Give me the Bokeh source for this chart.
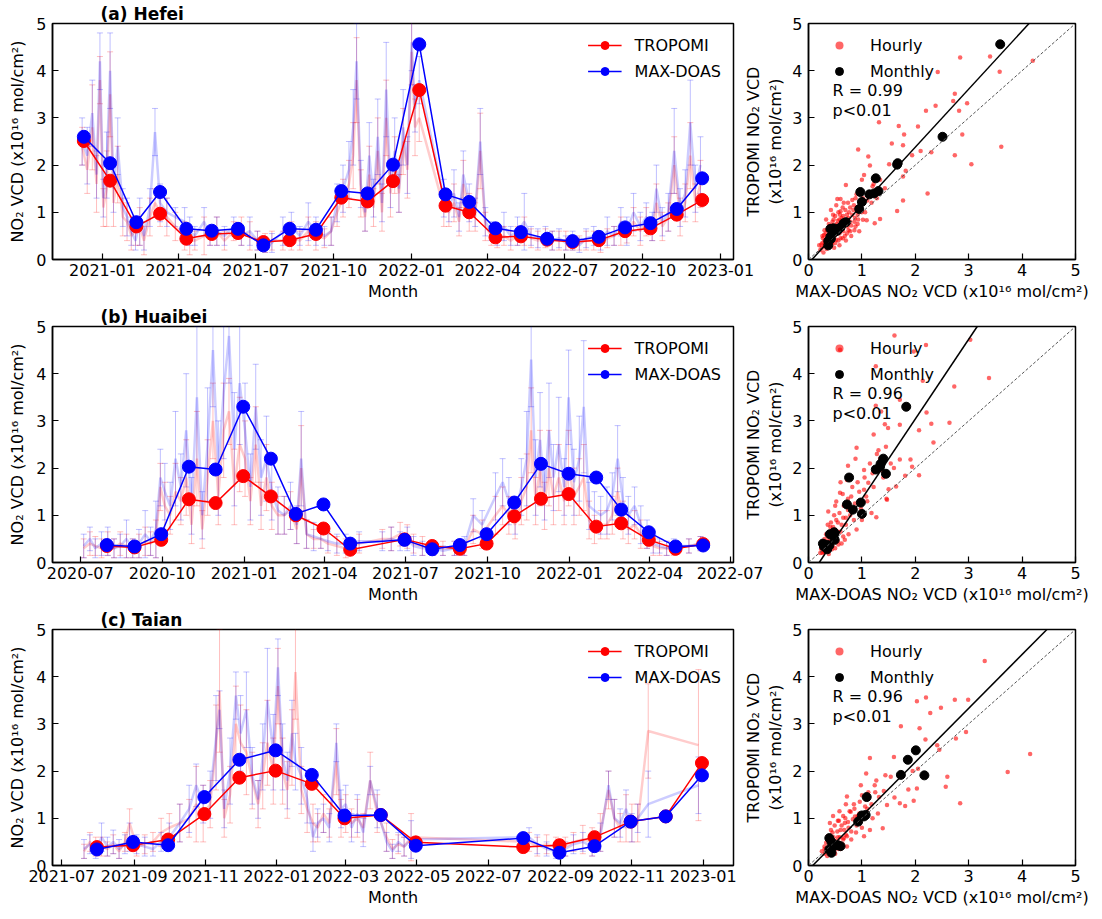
import pandas as pd
from bokeh.plotting import figure
from bokeh.models import (Range1d, FixedTicker, DatetimeTickFormatter, Whisker, TeeHead,
                          ColumnDataSource, Legend, LegendItem, Slope, Label)
from bokeh.layouts import column, row
from bokeh.embed import file_html
from bokeh.resources import INLINE

FONT = "DejaVu Sans"
RED = "#ff0000"
BLUE = "#0000ff"

# ---------------- Monthly means ----------------
hf_month_dates = ["2020-12-10", "2021-01-10", "2021-02-10", "2021-03-10", "2021-04-10", "2021-05-10",
                  "2021-06-10", "2021-07-10", "2021-08-10", "2021-09-10", "2021-10-10", "2021-11-10",
                  "2021-12-10", "2022-01-10", "2022-02-10", "2022-03-10", "2022-04-10", "2022-05-10",
                  "2022-06-10", "2022-07-10", "2022-08-10", "2022-09-10", "2022-10-10", "2022-11-10",
                  "2022-12-10"]
hf_month_trop = [2.51, 1.67, 0.70, 0.97, 0.44, 0.54, 0.56, 0.37, 0.41, 0.54, 1.31, 1.23, 1.66, 3.59,
                 1.14, 1.00, 0.47, 0.49, 0.42, 0.37, 0.41, 0.60, 0.66, 0.95, 1.26]
hf_month_doas = [2.60, 2.04, 0.79, 1.43, 0.65, 0.61, 0.65, 0.30, 0.65, 0.63, 1.45, 1.40, 2.01, 4.56,
                 1.38, 1.22, 0.66, 0.58, 0.44, 0.39, 0.48, 0.68, 0.77, 1.07, 1.72]

hb_month_dates = ["2020-07-31", "2020-08-31", "2020-09-30", "2020-10-31", "2020-11-30", "2020-12-31",
                  "2021-01-31", "2021-02-28", "2021-03-31", "2021-04-30", "2021-06-30", "2021-07-31",
                  "2021-08-31", "2021-09-30", "2021-10-31", "2021-11-30", "2021-12-31", "2022-01-31",
                  "2022-02-28", "2022-03-31", "2022-04-30", "2022-05-31"]
hb_month_trop = [0.35, 0.32, 0.48, 1.34, 1.26, 1.83, 1.40, 1.00, 0.72, 0.27, 0.49, 0.35, 0.29, 0.40,
                 0.98, 1.35, 1.45, 0.76, 0.83, 0.48, 0.29, 0.39]
hb_month_doas = [0.37, 0.34, 0.60, 2.03, 1.97, 3.30, 2.20, 1.03, 1.23, 0.40, 0.48, 0.28, 0.37, 0.60,
                 1.27, 2.09, 1.88, 1.80, 1.12, 0.64, 0.34, 0.36]

ta_month_dates = ["2021-07-31", "2021-08-31", "2021-09-30", "2021-10-31", "2021-11-30", "2021-12-31",
                  "2022-01-31", "2022-02-28", "2022-03-31", "2022-04-30", "2022-07-31", "2022-08-31",
                  "2022-09-30", "2022-10-31", "2022-11-30", "2022-12-31"]
ta_month_trop = [0.39, 0.43, 0.55, 1.09, 1.86, 2.01, 1.73, 1.00, 1.07, 0.49, 0.39, 0.43, 0.60, 0.93,
                 1.04, 2.17]
ta_month_doas = [0.34, 0.50, 0.43, 1.45, 2.24, 2.44, 1.92, 1.06, 1.07, 0.42, 0.58, 0.27, 0.41, 0.93,
                 1.04, 1.91]

# ---------------- Daily values with standard deviations ----------------
hf_days = ["2020-12-08", "2020-12-14", "2020-12-20", "2020-12-25", "2020-12-29", "2021-01-02", "2021-01-06",
           "2021-01-10", "2021-01-14", "2021-01-19", "2021-01-25", "2021-01-30", "2021-02-04", "2021-02-09",
           "2021-02-14", "2021-02-19", "2021-02-26", "2021-03-04", "2021-03-10", "2021-03-18", "2021-03-28",
           "2021-04-08", "2021-04-14", "2021-04-20", "2021-05-01", "2021-05-08", "2021-05-16", "2021-05-25",
           "2021-06-05", "2021-06-14", "2021-06-24", "2021-07-03", "2021-07-12", "2021-07-20", "2021-08-02",
           "2021-08-12", "2021-08-22", "2021-09-01", "2021-09-10", "2021-09-20", "2021-09-28", "2021-10-05",
           "2021-10-12", "2021-10-19", "2021-10-24", "2021-10-28", "2021-11-02", "2021-11-07", "2021-11-12",
           "2021-11-17", "2021-11-22", "2021-11-27", "2021-12-02", "2021-12-07", "2021-12-12", "2021-12-17",
           "2021-12-22", "2021-12-27", "2022-01-01", "2022-01-05", "2022-01-10", "2022-02-08", "2022-02-14",
           "2022-02-20", "2022-02-26", "2022-03-03", "2022-03-10", "2022-03-17", "2022-03-23", "2022-03-29",
           "2022-04-05", "2022-04-12", "2022-04-20", "2022-04-28", "2022-05-06", "2022-05-14", "2022-05-22",
           "2022-05-30", "2022-06-08", "2022-06-16", "2022-06-24", "2022-07-02", "2022-07-10", "2022-07-18",
           "2022-07-26", "2022-08-04", "2022-08-12", "2022-08-20", "2022-08-28", "2022-09-05", "2022-09-12",
           "2022-09-20", "2022-09-28", "2022-10-05", "2022-10-12", "2022-10-17", "2022-10-24", "2022-10-31",
           "2022-11-07", "2022-11-14", "2022-11-20", "2022-11-26", "2022-12-02", "2022-12-08"]
hf_day_doas = [2.5, 2.2, 3.1, 1.8, 4.2, 1.3, 2.0, 4.0, 1.5, 2.4, 1.1, 0.9, 0.6, 0.4, 0.8, 0.5, 1.1, 2.7,
               1.2, 1.0, 0.9, 0.8, 0.6, 0.5, 0.8, 0.5, 0.6, 0.5, 0.7, 0.5, 0.6, 0.4, 0.3, 0.35, 0.6, 0.7,
               0.5, 0.8, 0.6, 0.5, 0.6, 1.2, 1.5, 1.9, 2.8, 4.2, 1.6, 1.0, 2.2, 1.3, 2.6, 1.2, 3.6, 1.6,
               2.3, 1.5, 2.8, 2.0, 4.6, 3.2, 3.8, 1.3, 1.1, 1.4, 0.9, 1.8, 1.2, 1.0, 2.5, 0.8, 0.6, 0.5,
               0.7, 0.5, 0.6, 0.8, 0.5, 0.45, 0.5, 0.4, 0.45, 0.35, 0.4, 0.3, 0.45, 0.5, 0.4, 0.6, 0.5,
               0.8, 0.6, 1.0, 0.7, 0.9, 0.7, 1.5, 0.8, 1.0, 2.3, 1.1, 1.4, 2.9, 1.5, 2.0]
hf_day_trop = [2.4, 1.9, 2.8, 1.6, 3.8, 1.1, 1.5, 3.5, 1.2, 1.8, 0.9, 0.8, 0.5, 0.6, 0.7, 0.4, 0.9, 1.2,
               1.0, 0.9, 0.7, 0.5, 0.4, 0.4, 0.5, 0.5, 0.6, 0.4, 0.6, 0.6, 0.5, 0.4, 0.35, 0.4, 0.4, 0.5,
               0.4, 0.6, 0.5, 0.45, 0.6, 1.0, 1.3, 1.6, 2.2, 3.8, 1.4, 0.9, 1.8, 1.1, 2.3, 1.0, 3.0, 1.4,
               2.0, 1.4, 2.5, 1.9, 4.4, 2.8, 3.0, 1.1, 1.0, 1.2, 0.8, 1.6, 1.0, 0.9, 2.3, 0.7, 0.5, 0.45,
               0.5, 0.4, 0.5, 0.6, 0.45, 0.4, 0.45, 0.4, 0.4, 0.4, 0.35, 0.35, 0.4, 0.4, 0.35, 0.45, 0.5,
               0.6, 0.55, 0.8, 0.6, 0.8, 0.6, 1.2, 0.7, 0.9, 2.0, 0.9, 1.2, 2.2, 1.2, 1.6]
hf_err_doas = [0.5, 0.6, 0.7, 0.5, 0.6, 0.4, 0.7, 0.8, 0.5, 0.6, 0.4, 0.4, 0.3, 0.2, 0.5, 0.3, 0.4, 0.5,
               0.4, 0.3, 0.2, 0.3, 0.3, 0.2, 0.3, 0.2, 0.3, 0.2, 0.2, 0.2, 0.3, 0.2, 0.15, 0.2, 0.3, 0.3,
               0.2, 0.4, 0.3, 0.2, 0.3, 0.4, 0.5, 0.6, 0.8, 0.8, 0.5, 0.4, 0.7, 0.4, 0.8, 0.4, 1.0, 0.5,
               0.7, 0.5, 0.8, 0.6, 0.6, 0.5, 0.5, 0.4, 0.3, 0.5, 0.3, 0.5, 0.4, 0.3, 0.7, 0.3, 0.2, 0.2,
               0.3, 0.2, 0.3, 0.6, 0.2, 0.2, 0.2, 0.2, 0.2, 0.15, 0.2, 0.15, 0.2, 0.2, 0.2, 0.3, 0.2,
               0.3, 0.3, 0.4, 0.3, 0.3, 0.3, 0.5, 0.3, 0.4, 0.9, 0.4, 0.5, 0.9, 0.5, 0.6]
hf_err_trop = [0.4, 0.5, 0.9, 0.6, 0.5, 0.4, 0.8, 0.9, 0.5, 0.6, 0.4, 0.4, 0.3, 0.3, 0.4, 0.3, 0.4, 0.3,
               0.3, 0.4, 0.3, 0.3, 0.3, 0.2, 0.4, 0.2, 0.3, 0.2, 0.2, 0.3, 0.3, 0.2, 0.2, 0.2, 0.2, 0.3,
               0.2, 0.3, 0.3, 0.2, 0.3, 0.3, 0.4, 0.5, 0.7, 0.9, 0.5, 0.3, 0.6, 0.4, 0.7, 0.4, 0.8, 0.5,
               0.6, 0.4, 0.7, 0.6, 0.7, 0.6, 0.5, 0.4, 0.3, 0.4, 0.3, 0.5, 0.4, 0.3, 0.8, 0.3, 0.2, 0.2,
               0.2, 0.2, 0.2, 0.3, 0.2, 0.2, 0.2, 0.2, 0.2, 0.2, 0.15, 0.15, 0.2, 0.2, 0.2, 0.2, 0.2,
               0.3, 0.2, 0.3, 0.3, 0.3, 0.2, 0.4, 0.3, 0.3, 0.6, 0.4, 0.4, 0.7, 0.4, 0.5]

hb_days = ["2020-07-05", "2020-07-12", "2020-07-18", "2020-07-25", "2020-08-01", "2020-08-08", "2020-08-15",
           "2020-08-22", "2020-08-29", "2020-09-05", "2020-09-12", "2020-09-18", "2020-09-24", "2020-09-29",
           "2020-10-04", "2020-10-10", "2020-10-16", "2020-10-22", "2020-10-28", "2020-11-03", "2020-11-09",
           "2020-11-15", "2020-11-21", "2020-11-27", "2020-12-03", "2020-12-09", "2020-12-15", "2020-12-21",
           "2020-12-27", "2021-01-02", "2021-01-08", "2021-01-14", "2021-01-20", "2021-01-26", "2021-02-01",
           "2021-02-08", "2021-02-15", "2021-02-22", "2021-03-01", "2021-03-06", "2021-03-12", "2021-03-20",
           "2021-03-28", "2021-04-05", "2021-04-15", "2021-04-25", "2021-05-10", "2021-06-05", "2021-06-15",
           "2021-06-25", "2021-07-03", "2021-07-10", "2021-07-20", "2021-08-01", "2021-08-12", "2021-08-25",
           "2021-09-05", "2021-09-15", "2021-09-25", "2021-10-10", "2021-10-18", "2021-10-25", "2021-11-01",
           "2021-11-08", "2021-11-14", "2021-11-19", "2021-11-24", "2021-11-29", "2021-12-04", "2021-12-09",
           "2021-12-14", "2021-12-20", "2021-12-26", "2021-12-31", "2022-01-06", "2022-01-12", "2022-01-17",
           "2022-01-23", "2022-01-29", "2022-02-05", "2022-02-12", "2022-02-18", "2022-02-24", "2022-03-02",
           "2022-03-08", "2022-03-15", "2022-03-22", "2022-03-29", "2022-04-05", "2022-04-12", "2022-04-20",
           "2022-04-28", "2022-05-15", "2022-05-28"]
hb_day_doas = [0.35, 0.50, 0.30, 0.40, 0.45, 0.30, 0.35, 0.50, 0.30, 0.40, 0.60, 0.45, 0.70, 1.80, 1.50,
               1.20, 2.20, 1.60, 2.80, 1.20, 3.50, 1.00, 2.50, 4.50, 2.00, 3.60, 4.80, 2.40, 3.80, 2.80,
               1.60, 3.30, 1.80, 2.20, 1.50, 1.10, 1.00, 1.20, 0.80, 2.20, 0.60, 0.55, 0.50, 0.45, 0.40,
               0.40, 0.45, 0.45, 0.50, 0.45, 0.50, 0.35, 0.30, 0.30, 0.25, 0.30, 0.35, 1.00, 0.80, 1.40,
               1.70, 1.30, 1.00, 1.60, 2.20, 4.30, 1.80, 2.60, 1.50, 2.80, 1.80, 2.50, 1.60, 3.50, 1.70,
               2.20, 3.30, 1.20, 1.10, 1.00, 1.10, 1.40, 2.20, 1.30, 1.00, 1.20, 0.80, 0.60, 0.40, 0.35,
               0.30, 0.35, 0.35, 0.40]
hb_day_trop = [0.30, 0.40, 0.35, 0.30, 0.40, 0.30, 0.40, 0.35, 0.30, 0.35, 0.45, 0.40, 0.50, 1.60, 1.20,
               1.00, 1.50, 1.30, 1.80, 0.80, 2.20, 0.70, 1.80, 3.00, 1.40, 2.80, 3.20, 1.60, 2.50, 2.20,
               1.30, 2.50, 1.20, 1.80, 1.20, 1.00, 1.00, 1.10, 0.70, 2.00, 0.60, 0.50, 0.50, 0.40, 0.35,
               0.30, 0.40, 0.50, 0.50, 0.60, 0.55, 0.40, 0.35, 0.30, 0.30, 0.30, 0.30, 0.70, 0.60, 1.00,
               1.20, 1.00, 0.80, 1.30, 1.60, 2.80, 1.30, 2.00, 1.20, 2.00, 1.40, 1.80, 1.30, 2.00, 1.40,
               1.60, 1.80, 0.90, 0.70, 0.80, 0.80, 1.00, 1.50, 0.90, 0.70, 0.80, 0.60, 0.50, 0.35, 0.30,
               0.30, 0.30, 0.35, 0.40]
hb_err_doas = [0.25, 0.25, 0.20, 0.25, 0.30, 0.20, 0.25, 0.40, 0.20, 0.30, 0.50, 0.30, 0.60, 0.60, 0.60,
               0.50, 1.00, 0.70, 1.20, 0.60, 1.50, 0.50, 1.20, 1.20, 1.00, 1.40, 1.00, 1.20, 1.30, 1.00,
               0.70, 0.90, 0.80, 0.90, 0.60, 0.50, 0.40, 0.50, 0.40, 1.00, 0.30, 0.30, 0.20, 0.20, 0.20,
               0.20, 0.20, 0.20, 0.25, 0.20, 0.25, 0.20, 0.15, 0.15, 0.10, 0.15, 0.20, 0.35, 0.30, 0.50,
               0.50, 0.50, 0.40, 0.60, 1.00, 1.00, 0.80, 1.00, 0.60, 1.00, 0.70, 1.00, 0.60, 1.00, 0.70,
               0.90, 1.40, 0.50, 0.40, 0.40, 0.50, 0.50, 0.70, 0.50, 0.40, 0.40, 0.40, 0.30, 0.20, 0.15,
               0.15, 0.15, 0.15, 0.15]
hb_err_trop = [0.20, 0.25, 0.20, 0.20, 0.25, 0.20, 0.25, 0.25, 0.20, 0.25, 0.30, 0.25, 0.40, 0.50, 0.50,
               0.40, 0.60, 0.50, 0.80, 0.40, 1.00, 0.40, 0.80, 0.80, 0.60, 1.00, 0.70, 0.80, 1.00, 0.80,
               0.50, 0.80, 0.50, 0.70, 0.50, 0.40, 0.40, 0.40, 0.30, 0.90, 0.30, 0.20, 0.20, 0.20, 0.20,
               0.20, 0.20, 0.20, 0.25, 0.25, 0.25, 0.20, 0.20, 0.15, 0.15, 0.15, 0.15, 0.30, 0.30, 0.40,
               0.40, 0.40, 0.30, 0.50, 0.70, 0.90, 0.50, 0.80, 0.50, 0.80, 0.60, 0.70, 0.50, 0.80, 0.60,
               0.60, 0.70, 0.40, 0.30, 0.30, 0.30, 0.40, 0.50, 0.40, 0.30, 0.30, 0.30, 0.20, 0.20, 0.15,
               0.15, 0.15, 0.15, 0.15]

ta_days = ["2021-07-20", "2021-07-25", "2021-07-30", "2021-08-04", "2021-08-09", "2021-08-14", "2021-08-19",
           "2021-08-24", "2021-08-28", "2021-09-03", "2021-09-10", "2021-09-17", "2021-09-24", "2021-10-01",
           "2021-10-10", "2021-10-18", "2021-10-24", "2021-10-30", "2021-11-05", "2021-11-10", "2021-11-13",
           "2021-11-17", "2021-11-22", "2021-11-27", "2021-12-01", "2021-12-06", "2021-12-11", "2021-12-16",
           "2021-12-20", "2021-12-24", "2021-12-29", "2022-01-02", "2022-01-06", "2022-01-10", "2022-01-14",
           "2022-01-17", "2022-01-22", "2022-01-27", "2022-02-01", "2022-02-05", "2022-02-10", "2022-02-15",
           "2022-02-21", "2022-02-25", "2022-03-01", "2022-03-06", "2022-03-11", "2022-03-16", "2022-03-22",
           "2022-03-28", "2022-04-05", "2022-04-10", "2022-04-15", "2022-04-20", "2022-04-26", "2022-08-05",
           "2022-08-12", "2022-08-20", "2022-08-28", "2022-09-05", "2022-09-12", "2022-09-20", "2022-09-28",
           "2022-10-05", "2022-10-12", "2022-10-17", "2022-10-22", "2022-10-27", "2022-11-01", "2022-11-06",
           "2022-11-15", "2022-12-28"]
ta_day_doas = [0.35, 0.45, 0.30, 0.60, 0.40, 0.50, 0.35, 0.45, 0.60, 0.45, 0.40, 0.35, 0.50, 0.60, 0.90,
               1.20, 1.70, 1.30, 1.50, 2.70, 3.30, 1.20, 2.00, 3.60, 2.80, 3.30, 1.90, 1.40, 2.30, 3.50,
               2.40, 4.20, 2.30, 1.80, 2.80, 2.20, 1.90, 1.40, 0.60, 0.90, 1.00, 0.80, 2.60, 1.20, 1.30,
               0.80, 1.10, 0.70, 1.80, 1.20, 0.50, 0.30, 0.50, 0.40, 0.55, 0.60, 0.45, 0.35, 0.30, 0.35,
               0.45, 0.50, 0.40, 0.60, 1.70, 1.00, 0.90, 1.20, 0.80, 1.00, 1.30, 1.70]
ta_day_trop = [0.30, 0.50, 0.40, 0.40, 0.35, 0.45, 0.30, 0.50, 0.90, 0.40, 0.45, 0.50, 0.70, 0.80, 0.90,
               1.00, 1.30, 1.10, 1.30, 2.50, 3.70, 1.00, 1.50, 3.00, 2.60, 2.40, 1.80, 1.30, 1.90, 2.60,
               2.00, 3.80, 2.00, 1.60, 2.50, 4.10, 1.60, 1.20, 0.90, 0.80, 1.10, 0.90, 2.20, 1.00, 1.10,
               0.90, 1.00, 0.80, 1.80, 1.10, 0.60, 0.35, 0.45, 0.40, 0.60, 0.50, 0.40, 0.45, 0.40, 0.40,
               0.50, 0.55, 0.50, 0.70, 1.60, 1.00, 0.80, 1.00, 0.90, 0.90, 2.85, 2.55]
ta_err_doas = [0.20, 0.20, 0.15, 0.30, 0.20, 0.25, 0.20, 0.20, 0.30, 0.20, 0.20, 0.15, 0.20, 0.30, 0.40,
               0.50, 0.45, 0.40, 0.50, 0.90, 0.40, 0.40, 0.70, 0.50, 0.80, 0.80, 0.60, 0.40, 0.70, 1.10,
               0.80, 0.60, 0.70, 0.60, 0.70, 0.60, 0.60, 0.50, 0.30, 0.30, 0.30, 0.30, 0.40, 0.40, 0.40,
               0.30, 0.40, 0.30, 0.30, 0.40, 0.20, 0.15, 0.20, 0.20, 0.40, 0.20, 0.20, 0.15, 0.15, 0.15,
               0.20, 0.20, 0.20, 0.30, 0.30, 0.40, 0.30, 0.40, 0.30, 0.30, 0.70, 0.60]
ta_err_trop = [0.15, 0.20, 0.20, 0.20, 0.15, 0.20, 0.15, 0.20, 0.30, 0.20, 0.20, 0.20, 0.30, 0.30, 0.40,
               0.40, 0.80, 0.60, 0.50, 0.90, 1.30, 0.40, 0.60, 0.80, 0.80, 0.90, 0.60, 0.50, 0.70, 0.90,
               0.70, 0.80, 0.70, 0.60, 0.80, 1.00, 0.50, 0.50, 0.40, 0.30, 0.40, 0.30, 0.70, 0.40, 0.40,
               0.30, 0.40, 0.30, 0.60, 0.40, 0.30, 0.20, 0.20, 0.20, 0.50, 0.20, 0.20, 0.20, 0.20, 0.20,
               0.20, 0.30, 0.30, 0.40, 0.40, 0.40, 0.30, 0.50, 0.40, 0.40, 1.00, 1.60]

# ---------------- Hourly coincident pairs (as drawn: x, y) ----------------
hf_hourly = [(2.84, 4.28), (3.40, 4.30), (4.20, 4.21), (2.42, 3.97), (3.58, 3.98), (2.74, 3.51), (2.71, 3.36),
             (2.97, 3.31), (2.38, 3.26), (2.20, 3.15), (2.82, 3.15), (1.32, 2.91), (1.69, 2.83), (2.05, 2.82),
             (1.79, 2.65), (2.88, 2.65), (1.56, 2.46), (1.77, 2.42), (3.61, 2.39), (0.93, 2.33), (2.10, 2.30),
             (2.30, 2.27), (1.94, 2.21), (2.74, 2.21), (1.12, 2.18), (3.05, 2.02), (1.51, 2.02), (1.82, 1.88),
             (1.77, 1.76), (2.23, 1.40), (1.77, 1.25), (1.66, 1.03), (1.34, 0.86), (1.24, 0.77), (1.02, 0.84),
             (1.09, 0.83), (0.87, 0.88), (0.70, 1.58), (1.04, 1.79), (1.15, 1.99), (1.34, 1.69), (1.43, 1.51),
             (0.82, 1.26), (0.54, 1.28), (0.90, 1.38), (1.00, 1.69), (1.20, 1.55), (1.28, 1.30), (1.10, 1.25),
             (0.95, 1.05), (0.78, 1.10), (0.66, 1.20), (0.60, 1.02), (0.72, 0.95), (0.85, 1.15), (0.50, 0.92),
             (0.45, 0.80), (0.58, 0.85), (0.62, 0.70), (0.70, 0.78), (0.80, 0.72), (0.55, 0.62), (0.48, 0.68),
             (0.40, 0.60), (0.35, 0.50), (0.42, 0.45), (0.50, 0.52), (0.58, 0.55), (0.65, 0.60), (0.30, 0.40),
             (0.38, 0.35), (0.45, 0.38), (0.25, 0.25), (0.30, 0.28), (0.34, 0.22), (0.40, 0.30), (0.28, 0.15),
             (0.22, 0.20), (0.52, 0.42), (0.60, 0.45), (0.68, 0.50), (0.75, 0.62), (0.88, 0.70), (0.36, 0.65),
             (0.32, 0.55), (0.44, 0.72), (0.53, 0.75), (0.62, 0.88), (0.75, 0.88), (0.92, 0.95), (1.00, 1.00),
             (0.80, 0.50), (0.70, 0.40), (0.95, 0.60), (0.26, 0.35), (0.20, 0.30), (0.58, 0.30), (0.48, 0.25)]
hf_hourly_dense = [(0.24, 0.32), (0.27, 0.45), (0.29, 0.52), (0.31, 0.33), (0.33, 0.42), (0.35, 0.62),
                   (0.37, 0.45), (0.39, 0.52), (0.41, 0.68), (0.43, 0.58), (0.45, 0.48), (0.47, 0.85),
                   (0.49, 0.62), (0.51, 0.72), (0.53, 0.58), (0.55, 0.82), (0.57, 0.68), (0.59, 0.95),
                   (0.61, 0.78), (0.63, 0.65), (0.65, 0.92), (0.67, 0.72), (0.69, 1.05), (0.71, 0.85),
                   (0.73, 0.70), (0.76, 1.00), (0.78, 0.80), (0.82, 0.95), (0.84, 1.05), (0.86, 0.80),
                   (0.90, 1.10), (0.93, 0.85), (0.97, 1.20), (1.02, 1.30), (1.06, 1.00), (1.12, 1.40),
                   (1.18, 1.20), (1.22, 1.60), (0.98, 1.45), (0.88, 1.30), (0.74, 1.20), (0.64, 1.10),
                   (0.56, 1.00), (0.46, 0.95), (0.38, 0.75), (0.30, 0.62), (0.26, 0.50), (0.36, 0.30),
                   (0.44, 0.33), (0.50, 0.35), (0.56, 0.40), (0.64, 0.45), (0.72, 0.55), (0.78, 0.60),
                   (0.86, 0.62), (0.92, 0.75), (0.33, 0.85), (0.42, 1.05), (0.52, 1.15), (0.60, 1.28)]
hb_hourly = [(1.61, 4.81), (2.20, 4.61), (0.59, 4.51), (1.97, 4.47), (3.03, 4.72), (1.26, 4.16), (2.14, 3.85),
             (3.38, 3.91), (1.71, 3.45), (2.73, 3.73), (1.36, 3.20), (1.43, 2.93), (1.49, 2.85), (1.26, 3.32),
             (2.21, 3.18), (2.30, 2.94), (2.64, 2.96), (2.07, 2.80), (1.71, 2.92), (1.22, 2.71), (2.34, 2.54),
             (0.90, 2.43), (1.91, 2.18), (1.94, 2.03), (2.07, 1.85), (1.81, 1.84), (1.64, 1.61), (1.46, 1.35),
             (1.27, 0.96), (1.04, 1.96), (0.74, 2.05), (0.59, 1.48), (0.52, 1.29), (0.37, 1.08), (0.41, 0.75),
             (1.31, 2.38), (1.34, 2.20), (1.12, 1.69), (1.04, 1.54), (1.71, 2.18), (1.54, 2.10), (1.20, 1.89),
             (0.87, 1.25), (0.74, 1.11), (0.97, 1.25), (0.60, 1.70), (0.80, 1.40), (0.95, 1.50), (1.10, 1.30),
             (0.65, 0.95), (0.55, 0.85), (0.70, 0.80), (0.85, 0.90), (1.00, 0.90), (0.45, 0.60), (0.50, 0.70),
             (0.60, 0.65), (0.40, 0.50), (0.35, 0.40), (0.30, 0.35), (0.25, 0.30), (0.22, 0.20), (0.28, 0.22),
             (0.35, 0.25), (0.45, 0.35), (0.55, 0.45), (0.65, 0.55), (0.75, 0.60), (0.42, 0.85), (0.33, 0.60),
             (0.48, 1.00), (1.40, 1.80), (1.50, 1.55), (1.60, 2.00), (1.47, 1.33), (1.18, 1.05), (0.90, 0.70),
             (0.62, 0.40), (0.38, 0.18), (0.50, 0.30)]
hb_hourly_dense = [(0.24, 0.28), (0.27, 0.40), (0.30, 0.50), (0.32, 0.30), (0.34, 0.45), (0.36, 0.55),
                   (0.38, 0.35), (0.40, 0.65), (0.43, 0.45), (0.46, 0.75), (0.48, 0.55), (0.52, 0.90),
                   (0.55, 0.65), (0.58, 1.05), (0.62, 0.80), (0.66, 1.20), (0.70, 0.95), (0.74, 1.35),
                   (0.78, 1.00), (0.82, 1.60), (0.86, 1.10), (0.92, 1.70), (0.98, 1.15), (1.05, 1.80),
                   (1.08, 1.40), (1.15, 2.10), (1.22, 1.60), (1.28, 2.30), (1.38, 1.95), (1.45, 2.45),
                   (0.30, 0.22), (0.26, 0.20), (0.44, 0.28), (0.56, 0.38), (0.68, 0.48), (0.36, 0.80),
                   (0.50, 1.20), (0.64, 1.45), (0.72, 1.75), (0.88, 2.20)]
ta_hourly = [(3.30, 4.33), (2.03, 3.48), (2.20, 3.56), (2.74, 3.51), (2.99, 3.51), (2.48, 3.34), (2.28, 3.23),
             (1.73, 2.95), (2.08, 2.91), (2.95, 2.83), (2.76, 2.69), (2.41, 2.55), (2.19, 2.67), (4.15, 2.36),
             (1.15, 2.28), (2.60, 1.88), (3.73, 1.98), (2.57, 1.67), (2.03, 1.63), (1.87, 1.61), (2.84, 1.32),
             (1.81, 1.26), (1.71, 1.32), (1.61, 1.44), (1.39, 0.79), (1.08, 1.95), (1.44, 1.91), (1.27, 1.80),
             (0.98, 1.70), (1.00, 1.49), (0.72, 1.46), (0.79, 1.14), (0.87, 1.04), (0.68, 0.90), (1.04, 0.62),
             (1.47, 1.28), (1.54, 1.88), (1.41, 1.58), (1.97, 1.37), (2.05, 2.05), (1.95, 2.00), (2.45, 2.45),
             (1.60, 2.30), (1.25, 1.55), (1.10, 1.20), (0.95, 1.10), (0.85, 1.30), (0.75, 0.80), (0.90, 0.85),
             (0.60, 0.75), (0.55, 0.60), (0.65, 0.55), (0.50, 0.45), (0.45, 0.70), (0.40, 0.90), (0.35, 0.55),
             (0.30, 0.40), (0.40, 0.30), (0.50, 0.25), (0.25, 0.30), (0.35, 0.20), (0.60, 0.35), (0.70, 0.65),
             (0.80, 0.55), (1.00, 0.80), (1.20, 1.00), (1.30, 1.10), (0.55, 0.95), (0.65, 1.05), (0.45, 0.50),
             (0.30, 0.25), (0.58, 0.48), (0.72, 0.40), (1.15, 0.75)]
ta_hourly_dense = [(0.30, 0.35), (0.33, 0.48), (0.36, 0.62), (0.38, 0.40), (0.40, 0.55), (0.42, 0.75),
                   (0.44, 0.38), (0.47, 0.60), (0.49, 0.85), (0.52, 0.52), (0.54, 0.72), (0.57, 0.95),
                   (0.59, 0.60), (0.62, 0.85), (0.64, 0.45), (0.67, 0.75), (0.69, 1.00), (0.72, 0.62),
                   (0.74, 0.92), (0.77, 1.15), (0.80, 0.72), (0.83, 0.98), (0.86, 1.20), (0.89, 0.70),
                   (0.92, 1.05), (0.96, 1.35), (1.02, 1.00), (1.06, 1.25), (1.12, 1.55), (1.18, 1.30),
                   (1.24, 1.70), (1.32, 1.45), (0.36, 0.28), (0.42, 0.22), (0.48, 0.30), (0.56, 0.35),
                   (0.66, 0.58), (0.46, 1.05), (0.58, 1.15), (0.70, 1.30)]

# regression (slope, intercept) and correlation text
hf_fit = (1.23, -0.08)
hb_fit = (1.69, -0.34)
ta_fit = (1.14, -0.09)
hf_r, hb_r, ta_r = "R = 0.99", "R = 0.96", "R = 0.96"
p_text = "p<0.01"

# axis tick labels and ranges
hf_ticks = ["2021-01", "2021-04", "2021-07", "2021-10", "2022-01", "2022-04", "2022-07", "2022-10", "2023-01"]
hb_ticks = ["2020-07", "2020-10", "2021-01", "2021-04", "2021-07", "2021-10", "2022-01", "2022-04", "2022-07"]
ta_ticks = ["2021-07", "2021-09", "2021-11", "2022-01", "2022-03", "2022-05", "2022-07", "2022-09",
            "2022-11", "2023-01"]
hf_xrange = ("2020-11-03", "2023-01-16")
hb_xrange = ("2020-05-31", "2022-07-04")
ta_xrange = ("2021-06-23", "2023-01-27")
titles = ["(a)  Hefei", "(b)  Huaibei", "(c)  Taian"]

YLABEL = "NO\u2082 VCD (x10\u00b9\u2076 mol/cm\u00b2)"
SC_XLABEL = "MAX-DOAS NO\u2082 VCD (x10\u00b9\u2076 mol/cm\u00b2)"
SC_YLABEL = "TROPOMI NO\u2082 VCD\n(x10\u00b9\u2076 mol/cm\u00b2)"


def ms(t):
    return pd.Timestamp(t).value / 1e6


def style_axes(p):
    for ax in list(p.xaxis) + list(p.yaxis):
        ax.major_tick_in = 6
        ax.major_tick_out = 0
        ax.minor_tick_line_color = None
        ax.axis_line_width = 1.5
        ax.axis_line_color = "black"
        ax.major_tick_line_color = "black"
        ax.major_tick_line_width = 1.2
        ax.major_label_text_font = FONT
        ax.major_label_text_font_size = "16px"
        ax.major_label_text_color = "black"
        ax.axis_label_text_font = FONT
        ax.axis_label_text_font_size = "16px"
        ax.axis_label_text_font_style = "normal"
        ax.axis_label_text_color = "black"
    p.grid.visible = False
    p.outline_line_color = "black"
    p.outline_line_width = 1.5
    p.outline_line_alpha = 1
    p.border_fill_alpha = 0
    p.xaxis.major_label_standoff = 4
    p.xaxis.axis_label_standoff = 3


def ts_fig(title, xr, ticks, mdates, m_trop, m_doas, ddates, d_doas, d_trop, e_doas, e_trop, btop, bbot):
    p = figure(frame_width=681, frame_height=236, x_axis_type="datetime",
               x_range=Range1d(ms(xr[0]), ms(xr[1])), y_range=Range1d(0, 5),
               output_backend="svg", toolbar_location=None, title=title,
               min_border_left=52, min_border_right=30, min_border_top=btop, min_border_bottom=bbot)
    style_axes(p)
    p.title.text_font = FONT
    p.title.text_font_size = "17px"
    p.title.text_font_style = "bold"
    p.title.text_color = "black"
    p.title.align = "left"
    p.title.offset = 48
    p.title.standoff = 0
    p.xaxis.ticker = FixedTicker(ticks=[ms(t) for t in ticks])
    p.xaxis.formatter = DatetimeTickFormatter(days="%Y-%m", months="%Y-%m", years="%Y-%m")
    p.yaxis.ticker = FixedTicker(ticks=[0, 1, 2, 3, 4, 5])
    p.xaxis.axis_label = "Month"
    p.yaxis.axis_label = YLABEL
    p.yaxis.major_label_standoff = 6
    p.yaxis.axis_label_standoff = 6

    xs = pd.to_datetime(ddates)
    for vals, errs, col in ((d_trop, e_trop, RED), (d_doas, e_doas, BLUE)):
        src = ColumnDataSource(dict(x=xs, y=vals,
                                    upper=[v + e for v, e in zip(vals, errs)],
                                    lower=[max(v - e, 0) for v, e in zip(vals, errs)]))
        p.line("x", "y", source=src, line_color=col, line_alpha=0.2, line_width=2.5)
        w = Whisker(base="x", upper="upper", lower="lower", source=src, dimension="height",
                    line_color=col, line_alpha=0.25, line_width=1,
                    upper_head=TeeHead(size=6, line_color=col, line_alpha=0.25, line_width=1),
                    lower_head=TeeHead(size=6, line_color=col, line_alpha=0.25, line_width=1))
        p.add_layout(w)

    md = pd.to_datetime(mdates)
    rl = p.line(md, m_trop, line_color=RED, line_width=1.5)
    rs = p.scatter(md, m_trop, size=13, fill_color=RED, line_color=RED)
    bl = p.line(md, m_doas, line_color=BLUE, line_width=1.5)
    bs = p.scatter(md, m_doas, size=13, fill_color=BLUE, line_color=BLUE)

    leg = Legend(items=[LegendItem(label="TROPOMI", renderers=[rl, rs]),
                        LegendItem(label="MAX-DOAS", renderers=[bl, bs])],
                 location="top_right", border_line_color=None, background_fill_alpha=0,
                 label_text_font=FONT, label_text_font_size="16px", label_text_color="black",
                 glyph_width=34, glyph_height=20, label_height=20, label_standoff=13,
                 padding=0, margin=12, spacing=6)
    p.add_layout(leg)
    return p


def sc_fig(hourly, dense, m_trop, m_doas, fit, rtext, btop, bbot):
    p = figure(frame_width=267, frame_height=236, x_range=Range1d(0, 5), y_range=Range1d(0, 5),
               output_backend="svg", toolbar_location=None, margin=(0, 0, 0, -25),
               min_border_left=70, min_border_right=19, min_border_top=btop, min_border_bottom=bbot)
    style_axes(p)
    p.xaxis.ticker = FixedTicker(ticks=[0, 1, 2, 3, 4, 5])
    p.yaxis.ticker = FixedTicker(ticks=[0, 1, 2, 3, 4, 5])
    p.xaxis.axis_label = SC_XLABEL
    p.yaxis.axis_label = SC_YLABEL
    p.yaxis.major_label_standoff = 6
    p.yaxis.axis_label_standoff = 4

    p.add_layout(Slope(gradient=1, y_intercept=0, line_color="#555555", line_dash="3 2", line_width=1))
    p.add_layout(Slope(gradient=fit[0], y_intercept=fit[1], line_color="black", line_width=1.5))
    pts = hourly + dense
    hx = [h[0] for h in pts]
    hy = [h[1] for h in pts]
    hr = p.scatter(hx, hy, size=4.5, fill_color=RED, line_color=None, fill_alpha=0.6)
    mr = p.scatter(m_trop, m_doas, size=9, fill_color="black", line_color="black")

    leg = Legend(items=[LegendItem(label="Hourly", renderers=[hr]),
                        LegendItem(label="Monthly", renderers=[mr])],
                 location="top_left", border_line_color=None, background_fill_alpha=0,
                 label_text_font=FONT, label_text_font_size="16px", label_text_color="black",
                 glyph_width=38, glyph_height=20, label_height=20, label_standoff=12,
                 padding=0, margin=12, spacing=6)
    p.add_layout(leg)
    p.add_layout(Label(x=0.45, y=3.58, text=rtext, text_font=FONT, text_font_size="16px",
                       text_color="black", text_baseline="middle"))
    p.add_layout(Label(x=0.45, y=3.16, text=p_text, text_font=FONT, text_font_size="16px",
                       text_color="black", text_baseline="middle"))
    return p


ta1 = ts_fig(titles[0], hf_xrange, hf_ticks, hf_month_dates, hf_month_trop, hf_month_doas,
             hf_days, hf_day_doas, hf_day_trop, hf_err_doas, hf_err_trop, 23, 45)
sa1 = sc_fig(hf_hourly, hf_hourly_dense, hf_month_trop, hf_month_doas, hf_fit, hf_r, 23, 45)
ta2 = ts_fig(titles[1], hb_xrange, hb_ticks, hb_month_dates, hb_month_trop, hb_month_doas,
             hb_days, hb_day_doas, hb_day_trop, hb_err_doas, hb_err_trop, 20, 45)
sa2 = sc_fig(hb_hourly, hb_hourly_dense, hb_month_trop, hb_month_doas, hb_fit, hb_r, 20, 45)
ta3 = ts_fig(titles[2], ta_xrange, ta_ticks, ta_month_dates, ta_month_trop, ta_month_doas,
             ta_days, ta_day_doas, ta_day_trop, ta_err_doas, ta_err_trop, 20, 45)
sa3 = sc_fig(ta_hourly, ta_hourly_dense, ta_month_trop, ta_month_doas, ta_fit, ta_r, 20, 45)

layout = column(row(ta1, sa1), row(ta2, sa2), row(ta3, sa3))
open("out.html", "w").write(file_html(layout, INLINE))
